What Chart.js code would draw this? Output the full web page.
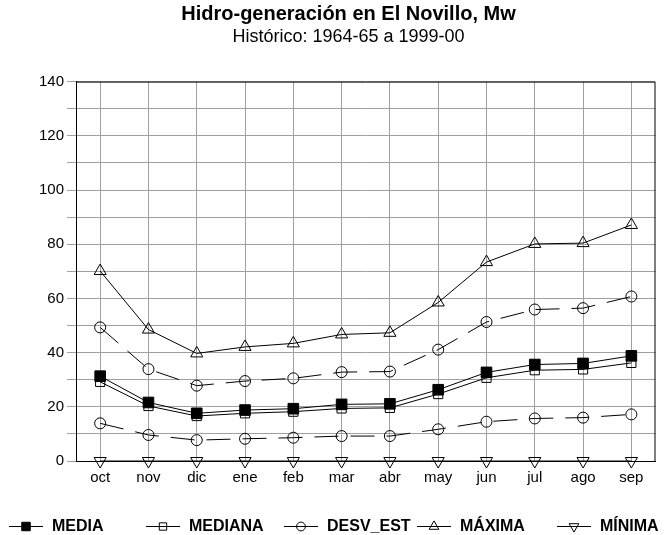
<!DOCTYPE html>
<html>
<head>
<meta charset="utf-8">
<script src="https://cdn.jsdelivr.net/npm/chart.js@4.4.0/dist/chart.umd.min.js"></script>
<style>
  html, body { margin: 0; padding: 0; background: #fff; }
</style>
</head>
<body>
<canvas id="chart" width="664" height="535"></canvas>
<script>
// datos (Mw)
const meses = ['oct', 'nov', 'dic', 'ene', 'feb', 'mar', 'abr', 'may', 'jun', 'jul', 'ago', 'sep'];
const media = [31.3, 21.6, 17.6, 18.8, 19.3, 20.9, 21.1, 26.3, 32.7, 35.6, 36.0, 38.8];
const mediana = [29.2, 20.3, 16.6, 17.6, 18.2, 19.4, 19.6, 24.7, 30.7, 33.5, 33.8, 36.2];
const desvSup = [49.3, 33.9, 27.8, 29.5, 30.5, 32.8, 33.0, 41.1, 51.3, 55.9, 56.4, 60.7];
const desvInf = [13.9, 9.6, 7.7, 8.2, 8.6, 9.2, 9.2, 11.7, 14.5, 15.7, 16.0, 17.2];
const maxima = [70.1, 48.5, 39.7, 42.1, 43.4, 46.7, 47.3, 58.5, 73.4, 80.1, 80.4, 87.1];
const minima = [0, 0, 0, 0, 0, 0, 0, 0, 0, 0, 0, 0];
const yMin = 0, yMax = 140, yStep = 10, yLabelStep = 20;

const FONT = "'Liberation Sans', Arial, Helvetica, sans-serif";

function serie(label, data, estilo) {
    return Object.assign({
        label: label,
        data: data,
        borderColor: '#000',
        borderWidth: 1,
        tension: 0,
        fill: false,
        clip: false,
        pointBorderColor: '#000',
        pointBorderWidth: 1,
        pointBackgroundColor: 'rgba(0,0,0,0)',
        pointHoverRadius: 0
    }, estilo);
}

// marco superior y derecho del área de trazado
const marco = {
    id: 'marco',
    afterDatasetsDraw(chart) {
        const a = chart.chartArea, ctx = chart.ctx;
        ctx.save();
        ctx.strokeStyle = '#000';
        ctx.lineWidth = 1;
        ctx.beginPath();
        ctx.moveTo(a.left, a.top + 0.5);
        ctx.lineTo(a.right - 0.5, a.top + 0.5);
        ctx.lineTo(a.right - 0.5, a.bottom);
        ctx.stroke();
        ctx.restore();
    }
};

// leyenda inferior: línea con marcador y texto en negrita
const leyenda = {
    id: 'leyenda',
    afterDraw(chart, args, opts) {
        const ctx = chart.ctx;
        const y = opts.y;
        const items = chart.data.datasets.filter(d => !d.sinLeyenda);
        ctx.save();
        items.forEach((ds, i) => {
            const cx = opts.x[i];
            ctx.strokeStyle = '#000';
            ctx.lineWidth = 1;
            ctx.setLineDash([]);
            ctx.beginPath();
            ctx.moveTo(cx - 17, y + 0.5);
            ctx.lineTo(cx + 17, y + 0.5);
            ctx.stroke();
            ctx.fillStyle = ds.pointBackgroundColor;
            Chart.helpers.drawPoint(ctx, {
                pointStyle: ds.pointStyle,
                radius: ds.pointRadius * 0.8,
                rotation: ds.pointRotation || 0,
                borderWidth: 1
            }, cx, y + 0.5);
            ctx.fillStyle = '#000';
            ctx.font = 'bold 16px ' + FONT;
            ctx.textBaseline = 'middle';
            ctx.textAlign = 'left';
            ctx.fillText(ds.label, cx + 26, y + 1);
        });
        ctx.restore();
    }
};

new Chart(document.getElementById('chart'), {
    type: 'line',
    data: {
        labels: meses,
        datasets: [
            serie('MEDIA', media, { pointStyle: 'rect', pointRadius: 7.5, pointBackgroundColor: '#000' }),
            serie('MEDIANA', mediana, { pointStyle: 'rect', pointRadius: 6.5 }),
            serie('DESV_EST', desvSup, { pointStyle: 'circle', pointRadius: 5.5, borderDash: [24, 12] }),
            serie('MÁXIMA', maxima, { pointStyle: 'triangle', pointRadius: 7 }),
            serie('MÍNIMA', minima, { pointStyle: 'triangle', pointRadius: 7, pointRotation: 180 }),
            serie('DESV_EST', desvInf, { pointStyle: 'circle', pointRadius: 5.5, borderDash: [24, 12], sinLeyenda: true })
        ]
    },
    options: {
        responsive: false,
        animation: false,
        events: [],
        layout: { padding: { left: 36, right: 3, top: 0, bottom: 40 } },
        plugins: {
            legend: { display: false },
            tooltip: { enabled: false },
            title: {
                display: true,
                text: 'Hidro-generación en El Novillo, Mw',
                color: '#000',
                font: { family: FONT, size: 20, weight: 'bold', lineHeight: 1.2 },
                padding: { top: 2, bottom: 0 }
            },
            subtitle: {
                display: true,
                text: 'Histórico: 1964-65 a 1999-00',
                color: '#000',
                font: { family: FONT, size: 18, lineHeight: 1.2 },
                padding: { top: 0, bottom: 34 }
            },
            leyenda: { y: 526, x: [26, 163, 301, 434, 574] }
        },
        scales: {
            x: {
                offset: true,
                grid: { color: '#a0a0a0', lineWidth: 1, drawTicks: false, offset: false },
                border: { color: '#000', width: 1 },
                ticks: {
                    color: '#000',
                    font: { family: FONT, size: 15 },
                    padding: 8,
                    maxRotation: 0,
                    autoSkip: false
                }
            },
            y: {
                min: yMin,
                max: yMax,
                grid: { color: '#a0a0a0', lineWidth: 1, tickLength: 9 },
                border: { color: '#000', width: 1 },
                ticks: {
                    stepSize: yStep,
                    color: '#000',
                    font: { family: FONT, size: 15 },
                    padding: 3,
                    callback: v => (v % yLabelStep === 0 ? v : '')
                }
            }
        }
    },
    plugins: [marco, leyenda]
});
</script>
</body>
</html>
